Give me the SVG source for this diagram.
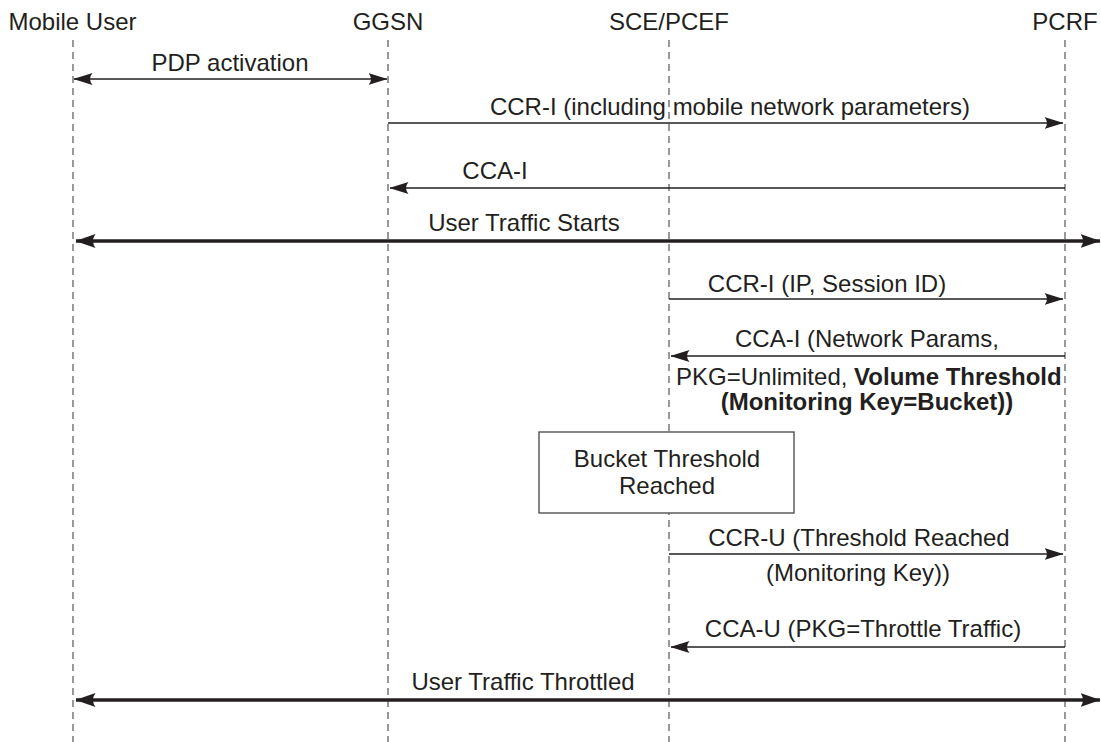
<svg xmlns="http://www.w3.org/2000/svg" width="1101" height="742" viewBox="0 0 1101 742">
<style>
text{font-family:"Liberation Sans",Arial,Helvetica,sans-serif;font-size:24px;fill:#231f20}
.c{text-anchor:middle}
.b{font-weight:bold}
.life{stroke:#555;stroke-width:1.2;stroke-dasharray:7 5;fill:none}
.thin{stroke:#231f20;stroke-width:1.5;fill:none}
.thick{stroke:#231f20;stroke-width:3.5;fill:none}
.box{fill:#fff;stroke:#444;stroke-width:1.3}
</style>
<defs>
<marker id="ah" viewBox="0 0 19 12" refX="18.5" refY="6" markerWidth="19" markerHeight="12" orient="auto-start-reverse" markerUnits="userSpaceOnUse"><path d="M0,0 L19,6 L0,12 Q5,6 0,0 z" fill="#231f20"/></marker>
<marker id="ahb" viewBox="0 0 20 14" refX="19.5" refY="7" markerWidth="20" markerHeight="14" orient="auto-start-reverse" markerUnits="userSpaceOnUse"><path d="M0,0 L20,7 L0,14 Q5,7 0,0 z" fill="#231f20"/></marker>
</defs>
<g id="lifelines">
<line class="life" x1="73" y1="40" x2="73" y2="742"/>
<line class="life" x1="388" y1="40" x2="388" y2="742"/>
<line class="life" x1="669" y1="40" x2="669" y2="742"/>
<line class="life" x1="1065" y1="40" x2="1065" y2="742"/>
</g>
<g id="node-mobile-user"><text class="c" x="72.5" y="30">Mobile User</text></g>
<g id="node-ggsn"><text class="c" x="388" y="30">GGSN</text></g>
<g id="node-sce-pcef"><text class="c" x="669" y="30">SCE/PCEF</text></g>
<g id="node-pcrf"><text class="c" x="1065" y="30">PCRF</text></g>
<g id="node-bucket-threshold">
<rect class="box" x="539" y="432" width="255" height="81"/>
<text class="c" x="667" y="467">Bucket Threshold</text>
<text class="c" x="667" y="494">Reached</text>
</g>
<g id="connectors">
<line class="thin" x1="74" y1="79" x2="387" y2="79" marker-start="url(#ah)" marker-end="url(#ah)"/>
<text class="c" x="230" y="71">PDP activation</text>
<line class="thin" x1="388" y1="123" x2="1063" y2="123" marker-end="url(#ah)"/>
<text class="c" x="730" y="115">CCR-I (including mobile network parameters)</text>
<line class="thin" x1="1065" y1="188" x2="390" y2="188" marker-end="url(#ah)"/>
<text class="c" x="495" y="179">CCA-I</text>
<line class="thick" x1="76" y1="241" x2="1100" y2="241" marker-start="url(#ahb)" marker-end="url(#ahb)"/>
<text class="c" x="524" y="231">User Traffic Starts</text>
<line class="thin" x1="669" y1="299" x2="1063" y2="299" marker-end="url(#ah)"/>
<text class="c" x="827" y="292">CCR-I (IP, Session ID)</text>
<line class="thin" x1="1065" y1="356" x2="671" y2="356" marker-end="url(#ah)"/>
<text class="c" x="867" y="347">CCA-I (Network Params,</text>
<text x="676" y="385">PKG=Unlimited, <tspan class="b">Volume Threshold</tspan></text>
<text class="c b" x="867" y="410">(Monitoring Key=Bucket))</text>
<line class="thin" x1="669" y1="554" x2="1063" y2="554" marker-end="url(#ah)"/>
<text class="c" x="859" y="546">CCR-U (Threshold Reached</text>
<text class="c" x="858" y="581">(Monitoring Key))</text>
<line class="thin" x1="1065" y1="647" x2="671" y2="647" marker-end="url(#ah)"/>
<text class="c" x="863" y="637">CCA-U (PKG=Throttle Traffic)</text>
<line class="thick" x1="76" y1="700" x2="1100" y2="700" marker-start="url(#ahb)" marker-end="url(#ahb)"/>
<text class="c" x="523" y="690">User Traffic Throttled</text>
</g>
</svg>
